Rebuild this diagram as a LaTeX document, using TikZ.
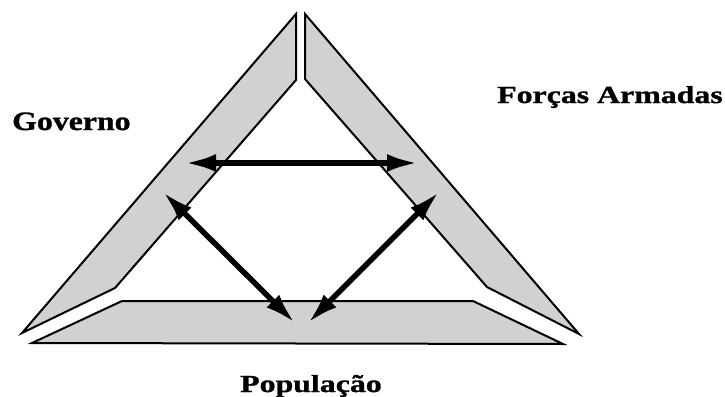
\documentclass[tikz,border=0pt]{standalone}
\usepackage{fontspec}
\setmainfont{Liberation Serif}
\newfontfamily\lblfont{Liberation Serif}[FakeStretch=1.3,FakeBold=1.2]
\newfontfamily\govfont{Liberation Serif}[FakeStretch=1.2,FakeBold=1.2]
\usetikzlibrary{arrows.meta}

\begin{document}
\begin{tikzpicture}[
  x=1pt,y=-1pt,
  part/.style={draw,line width=2pt,fill=black!18,line join=miter},
  lbl/.style={anchor=base west,inner sep=0pt,
              font=\lblfont\bfseries\fontsize{24.5}{28}\selectfont},
  arr/.style={{Latex[length=31pt,width=18pt]}-{Latex[length=31pt,width=18pt]},
              line width=5.5pt},
]
  \useasboundingbox (0,0) rectangle (725,396);

  % the three parts of the triangle
  \draw[part] (296,14) -- (296,80) -- (115,288) -- (22,333) -- cycle;
  \draw[part] (305,14) -- (305,79) -- (487,287) -- (579,334) -- cycle;
  \draw[part] (122,301) -- (473,301) -- (563,344) -- (32,343) -- cycle;

  % labels
  \node[lbl,font=\govfont\bfseries\fontsize{26.5}{30}\selectfont]
    (gov) at (12,130) {Governo};
  \node[lbl] (fa)  at (497,103) {Forças Armadas};
  \node[lbl] (pop) at (240,392) {População};

  % arrow ends
  \coordinate (gov-fa) at (185,163);
  \coordinate (fa-gov) at (418,163);
  \coordinate (gov-pop) at (163,192);
  \coordinate (pop-gov) at (295,323);
  \coordinate (fa-pop) at (439,192);
  \coordinate (pop-fa) at (308,323);

  \draw[arr] (gov-fa) -- (fa-gov);
  \draw[arr] (gov-pop) -- (pop-gov);
  \draw[arr] (fa-pop) -- (pop-fa);
\end{tikzpicture}
\end{document}
